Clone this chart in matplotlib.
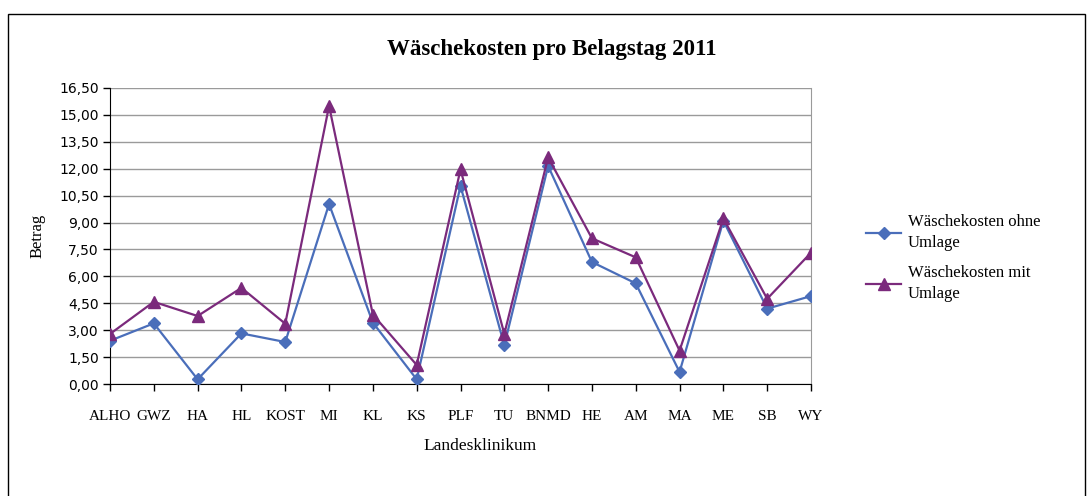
import matplotlib
matplotlib.use("Agg")
import matplotlib.pyplot as plt
from matplotlib.patches import Rectangle
from matplotlib.ticker import FuncFormatter, MultipleLocator

categories = ["ALHO", "GWZ", "HA", "HL", "KOST", "MI", "KL", "KS", "PLF", "TU",
              "BNMD", "HE", "AM", "MA", "ME", "SB", "WY"]
ohne_umlage = [2.41, 3.38, 0.26, 2.82, 2.34, 10.03, 3.42, 0.26, 11.04, 2.16,
               12.15, 6.80, 5.61, 0.67, 9.10, 4.20, 4.90]
mit_umlage = [2.79, 4.58, 3.79, 5.36, 3.36, 15.50, 3.87, 1.06, 11.96, 2.79,
              12.63, 8.12, 7.06, 1.86, 9.23, 4.75, 7.32]
series_names = ["Wäschekosten ohne\nUmlage", "Wäschekosten mit\nUmlage"]
title = "Wäschekosten pro Belagstag 2011"
xlabel = "Landesklinikum"
ylabel = "Betrag"

W, H = 1087, 496
fig = plt.figure(figsize=(W / 100, H / 100), dpi=100)
plt.rcParams['font.family'] = ['Liberation Serif', 'DejaVu Serif']

# outer border
fig.patches.append(Rectangle((8 / W, -0.1), (1085 - 8) / W, 1.1 - 14 / H,
                             transform=fig.transFigure, fill=False,
                             edgecolor="black", linewidth=1.0))

ax = fig.add_axes([110 / W, 1 - 384 / H, (811 - 110) / W, (384 - 88) / H])
x = list(range(len(categories)))
blue = "#4A6EBA"
purple = "#7B2A7C"
ax.plot(x, ohne_umlage, color=blue, marker="D", markersize=6.5, linewidth=1.6,
        label=series_names[0], zorder=3)
ax.plot(x, mit_umlage, color=purple, marker="^", markersize=9, linewidth=1.6,
        label=series_names[1], zorder=4)

ax.set_xlim(0, len(categories) - 1)
ax.set_ylim(0, 16.5)
ax.yaxis.set_major_locator(MultipleLocator(1.5))
ax.yaxis.set_major_formatter(FuncFormatter(lambda v, p: f"{v:.2f}".replace(".", ",")))
ax.set_xticks(x)
ax.set_xticklabels(categories)
ax.grid(axis="y", color="#9a9a9a", linewidth=1.0)
ax.set_axisbelow(True)
ax.spines["top"].set_visible(False)
ax.spines["right"].set_color("#9a9a9a")
ax.spines["left"].set_color("black")
ax.spines["bottom"].set_color("black")
ax.tick_params(axis="both", direction="out", length=5, width=1, colors="black")
ax.tick_params(axis="x", pad=14, labelsize=11)
ax.tick_params(axis="y", pad=3, labelsize=10)
for lab in ax.get_yticklabels():
    lab.set_family("DejaVu Sans")

ax.set_xlabel(xlabel, fontsize=12.5)
ax.xaxis.set_label_coords((480 - 110) / (811 - 110), -(446 - 384) / (384 - 88))
ax.xaxis.label.set_va("center")
ax.set_ylabel(ylabel, fontsize=12, labelpad=10)

fig.text(552 / W, 1 - 50 / H, title, ha="center", va="center",
         fontsize=16.5, fontweight="bold")

leg = ax.legend(loc="center left", bbox_to_anchor=(851 / W, 1 - 258 / H),
                bbox_transform=fig.transFigure, frameon=False, fontsize=12,
                handlelength=2.1, labelspacing=0.8, handletextpad=0.4)
for t in leg.get_texts():
    t.set_linespacing(1.45)

fig.savefig("out.png", dpi=100)
